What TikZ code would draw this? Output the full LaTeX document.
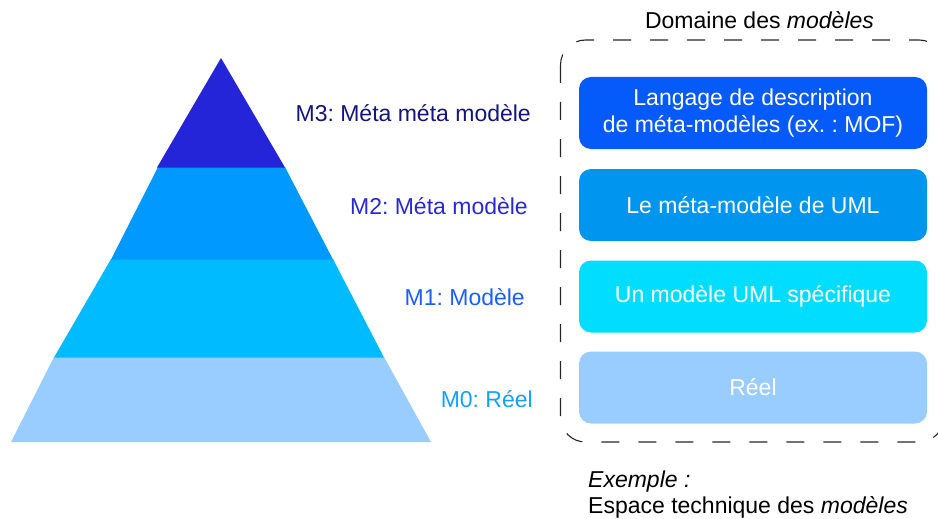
\documentclass[tikz,border=0pt]{standalone}
\usepackage{fontspec}
\setmainfont{Liberation Sans}
\frenchspacing
\definecolor{pyrA}{RGB}{36,36,216}
\definecolor{pyrB}{RGB}{0,153,255}
\definecolor{pyrC}{RGB}{0,187,255}
\definecolor{pyrD}{RGB}{153,204,255}
\definecolor{boxA}{RGB}{5,90,250}
\definecolor{boxB}{RGB}{0,150,240}
\definecolor{boxC}{RGB}{0,221,255}
\definecolor{boxD}{RGB}{153,204,255}
\definecolor{labA}{RGB}{20,20,128}
\definecolor{labB}{RGB}{40,40,215}
\definecolor{labC}{RGB}{25,95,255}
\definecolor{labD}{RGB}{20,160,255}
\begin{document}
\begin{tikzpicture}[x=1pt,y=-1pt,
  bigfont/.style={font=\fontsize{23}{27}\selectfont},
  levelbox/.style={bigfont, text=white, rounded corners=12pt, minimum width=348pt,
    minimum height=72pt, inner sep=0pt, align=center},
  levellabel/.style={bigfont, anchor=base east, inner sep=0pt},
  frameline/.style={draw=black!85, line width=1.1pt, dash pattern=on 18pt off 19pt, rounded corners=25pt}
]
\useasboundingbox (0,0) rectangle (938,519);
% pyramid
\fill[pyrD] (54,357) -- (384,357) -- (431,442) -- (11,442) -- cycle;
\fill[pyrC] (111,259) -- (333,259) -- (384,357.5) -- (54,357.5) -- cycle;
\fill[pyrB] (158,167) -- (285,167) -- (333,259.5) -- (111,259.5) -- cycle;
\fill[pyrA] (221,58) -- (285,167.5) -- (157,167.5) -- cycle;
% level labels
\node[levellabel, text=labA] (l3) at (531,121.5) {M3: Méta méta modèle};
\node[levellabel, text=labB] (l2) at (528,214) {M2: Méta modèle};
\node[levellabel, text=labC] (l1) at (525,305) {M1: Modèle};
\node[levellabel, text=labD] (l0) at (533,407) {M0: Réel};
% domain frame
\draw[frameline] (560.5,40) rectangle (944,442);
\node[bigfont, inner sep=0pt] (title) at (759.5,20) {Domaine des \textit{modèles}};
% boxes
\node[levelbox, fill=boxA] (b3) at (753,113) {Langage de description\\de méta-modèles (ex. : MOF)};
\node[levelbox, fill=boxB] (b2) at (753,205) {Le méta-modèle de UML};
\node[levelbox, fill=boxC] (b1) at (753,296.5) {Un modèle UML spécifique};
\node[levelbox, fill=boxD] (b0) at (753,387.5) {Réel};
% example
\node[bigfont, anchor=base west, inner sep=0pt] (ex1) at (588,487) {\textit{Exemple :}};
\node[bigfont, anchor=base west, inner sep=0pt] (ex2) at (588,513) {Espace technique des \textit{modèles}};
\end{tikzpicture}
\end{document}
